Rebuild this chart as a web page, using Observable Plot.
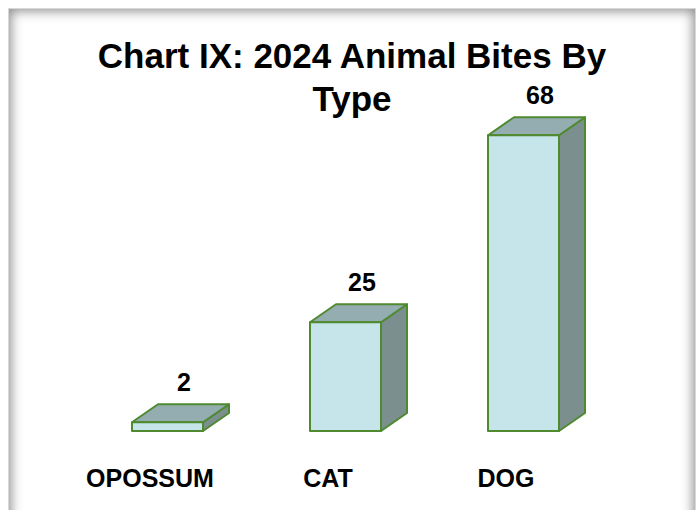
<!DOCTYPE html>
<html>
<head>
<meta charset="utf-8">
<script src="https://cdn.jsdelivr.net/npm/d3@7"></script>
<script src="https://cdn.jsdelivr.net/npm/@observablehq/plot@0.6"></script>
<style>
  html, body { margin: 0; padding: 0; background: #fff; width: 700px; height: 510px; overflow: hidden; }
  #frame {
    position: absolute; left: 8px; top: 8px; width: 686px; height: 520px;
    border: 1px solid #d8d8d8;
    box-shadow: inset 0 0 12px 2px rgba(0,0,0,0.45);
    background: #fff;
  }
  #chart { position: absolute; left: 0; top: 0; }
  #title {
    position: absolute; left: 0; top: 34px; width: 704px; text-align: center;
    font-family: "Liberation Sans", Arial, sans-serif; font-weight: bold;
    font-size: 35px; line-height: 43px; color: #000;
  }
</style>
</head>
<body>
<div id="frame"></div>
<div id="chart"></div>
<div id="title">Chart IX: 2024 Animal Bites By<br>Type</div>
<script>
const animals = ["OPOSSUM", "CAT", "DOG"];
const bites = [2, 25, 68];
const data = animals.map((a, i) => ({animal: a, bites: bites[i]}));

const frontFill = "#c5e5ea";
const topFill = "#93adb0";
const sideFill = "#7b8f8f";
const edge = "#4f8a30";
const DX = 26, DY = 18;

const box3d = Plot.barY(data, {
  x: "animal", y: "bites", fill: frontFill, stroke: edge, strokeWidth: 2, strokeLinejoin: "round",
  render(index, scales, values, dimensions, context, next) {
    const g = next(index, scales, values, dimensions, context);
    const bw = scales.x.bandwidth();
    const ns = "http://www.w3.org/2000/svg";
    const extra = document.createElementNS(ns, "g");
    for (const i of index) {
      const x0 = values.x[i];
      const top = Math.min(values.y1[i], values.y2[i]);
      const bot = Math.max(values.y1[i], values.y2[i]);
      const x1 = x0 + bw;
      const faces = [
        [[x1, top], [x1 + DX, top - DY], [x1 + DX, bot - DY], [x1, bot], sideFill],
        [[x0, top], [x0 + DX, top - DY], [x1 + DX, top - DY], [x1, top], topFill]
      ];
      for (const f of faces) {
        const p = document.createElementNS(ns, "polygon");
        p.setAttribute("points", f.slice(0, 4).map(d => d.join(",")).join(" "));
        p.setAttribute("fill", f[4]);
        p.setAttribute("stroke", edge);
        p.setAttribute("stroke-width", 2);
        p.setAttribute("stroke-linejoin", "round");
        extra.appendChild(p);
      }
    }
    g.insertBefore(extra, g.firstChild);
    return g;
  }
});

const chart = Plot.plot({
  width: 700,
  height: 510,
  marginLeft: 24,
  marginRight: 32,
  marginTop: 83,
  marginBottom: 79,
  style: {background: "transparent", fontFamily: "'Liberation Sans', Arial, sans-serif", color: "#000"},
  x: {domain: animals, paddingInner: 0.6, paddingOuter: 0.6},
  y: {domain: [0, 80], axis: null},
  marks: [
    Plot.axisX({tickSize: 0, tickPadding: 38, fontSize: 25, fontWeight: "bold", dx: -18, label: null}),
    box3d,
    Plot.text(data, {x: "animal", y: "bites", text: d => String(d.bites), dx: 16, dy: -40, fontSize: 25, fontWeight: "bold", fill: "#000"})
  ]
});
document.getElementById("chart").appendChild(chart);
</script>
</body>
</html>
